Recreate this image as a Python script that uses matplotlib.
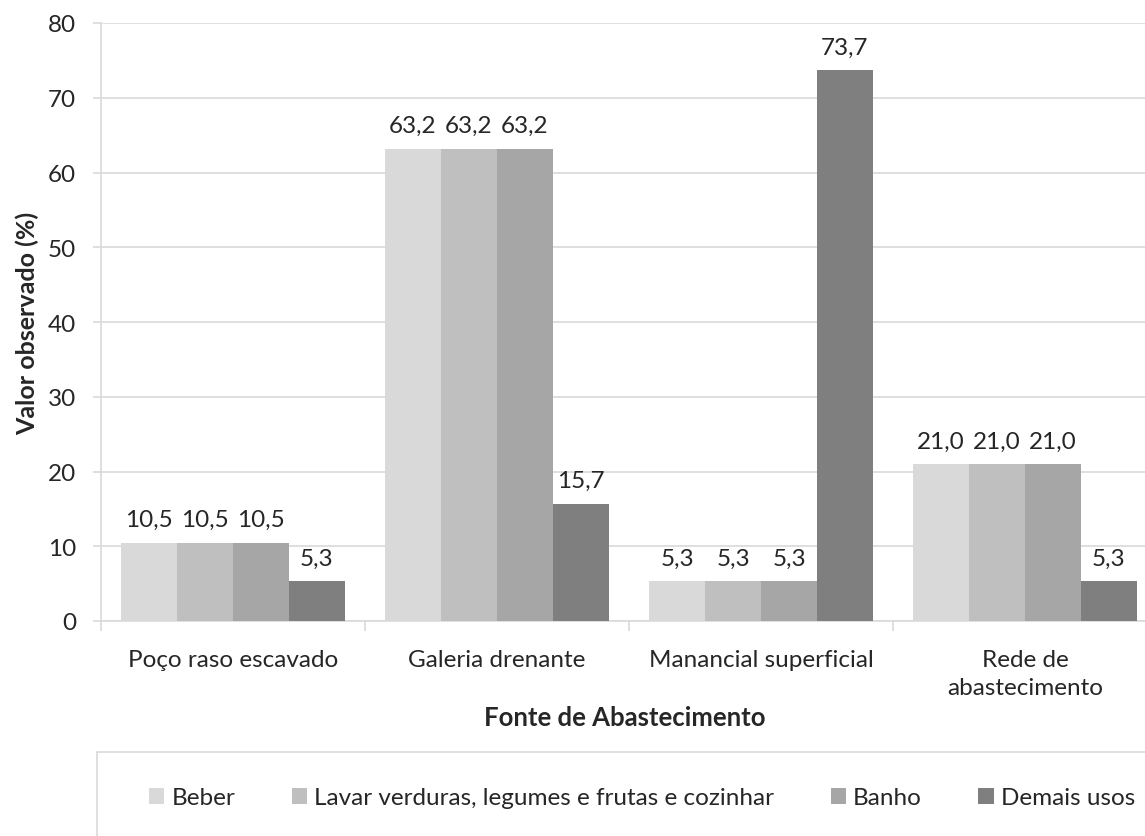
import numpy as np
import matplotlib.pyplot as plt
from matplotlib.patches import Rectangle

plt.rcParams['font.family'] = ['Lato', 'DejaVu Sans']

# dados
fontes = ['Poço raso escavado', 'Galeria drenante', 'Manancial superficial', 'Rede de\nabastecimento']
beber = [10.5, 63.2, 5.3, 21.0]
lavar = [10.5, 63.2, 5.3, 21.0]
banho = [10.5, 63.2, 5.3, 21.0]
demais = [5.3, 15.7, 73.7, 5.3]
series = ['Beber', 'Lavar verduras, legumes e frutas e cozinhar', 'Banho', 'Demais usos']
cores = ['#D9D9D9', '#BFBFBF', '#A6A6A6', '#7F7F7F']

fs = 17.5
txt = '#262626'

fig = plt.figure(figsize=(11.45, 8.37), dpi=100)
ax = fig.add_axes([101/1145, 1-622/837, 1056/1145, (622-24)/837])

x = np.arange(len(fontes))
w = 0.212
for i, (nome, vals) in enumerate(zip(series, [beber, lavar, banho, demais])):
    pos = x + (i - 1.5) * w
    bars = ax.bar(pos, vals, w, color=cores[i], label=nome, zorder=3)
    for b, v in zip(bars, vals):
        ax.annotate(('%.1f' % v).replace('.', ','), (b.get_x() + b.get_width()/2, v),
                    xytext=(0, 9), textcoords='offset points', ha='center', va='bottom',
                    fontsize=fs, color=txt)

ax.set_xlim(-0.5, len(fontes) - 0.5)
ax.set_ylim(0, 80)
ax.set_yticks(range(0, 81, 10))
ax.grid(axis='y', color='#D9D9D9', linewidth=1.2, zorder=0)

ax.set_xticks(np.arange(-0.5, len(fontes), 1))
ax.set_xticklabels([])
ax.set_xticks(x, minor=True)
ax.set_xticklabels(fontes, minor=True, fontsize=fs, color=txt, linespacing=1.4)
ax.tick_params(axis='x', which='major', length=7, color='#D9D9D9', width=1.2)
ax.tick_params(axis='x', which='minor', length=0, pad=20)
ax.tick_params(axis='y', length=6, color='#D9D9D9', width=1.2, labelsize=fs,
               labelcolor=txt, pad=12)

for s in ['top', 'right']:
    ax.spines[s].set_visible(False)
ax.spines['left'].set_color('#D9D9D9')
ax.spines['left'].set_linewidth(1.2)
ax.spines['bottom'].set_color('#D9D9D9')
ax.spines['bottom'].set_linewidth(1.2)

ax.set_ylabel('Valor observado (%)', fontsize=18, fontweight='bold', color=txt, labelpad=6)
fig.text(625/1145, 1-718/837, 'Fonte de Abastecimento', ha='center', va='center',
         fontsize=18.5, fontweight='bold', color=txt)

# caixa da legenda
fig.patches.append(Rectangle((97/1145, -0.05), 1.1, (837-753)/837 + 0.05,
                             transform=fig.transFigure, fill=False,
                             edgecolor='#D9D9D9', linewidth=1.2))
fig.legend(loc='center', bbox_to_anchor=(642/1145, 1-799/837), ncol=4, frameon=False,
           fontsize=fs, handlelength=0.62, handleheight=0.62, handletextpad=0.3,
           columnspacing=2.33, labelcolor=txt, borderpad=0)

fig.savefig('out.png', dpi=100)
